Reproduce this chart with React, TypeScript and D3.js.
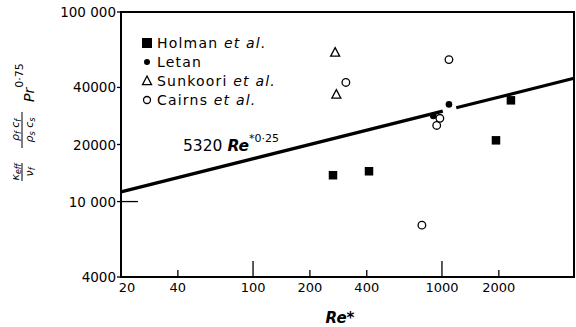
import React from "react";
import * as d3 from "d3";

// (Re*, kappa group)
const holmanRe = [265, 411, 1932, 2318];
const holmanK = [13770, 14450, 21040, 34200];
const letanRe = [1089, 900];
const letanK = [32560, 28300];
const sunkooriRe = [272, 276];
const sunkooriK = [61100, 36700];
const cairnsRe = [310, 1089, 975, 938, 783];
const cairnsK = [42500, 56100, 27500, 25200, 7510];

const xTicks = [20, 40, 100, 200, 400, 1000, 2000];
const xMajor = [100, 1000];
const yTicks = [100000, 40000, 20000, 10000, 4000];
const yTickLabels = ["100 000", "40000", "20000", "10 000", "4000"];
const fitCoef = 5320;
const fitExp = 0.25;
const fitPieces = [
  [20, 1010],
  [1190, 5000],
];
const legendNames = ["Holman", "Letan", "Sunkoori", "Cairns"];
const legendEtAl = [true, false, true, true];

const W = 576;
const H = 327;
const left = 121;
const right = 574;
const top = 12;
const bottom = 277;

const font = "'DejaVu Sans', sans-serif";

const App = () => {
  const x = d3.scaleLog().domain([20, 5000]).range([left, right]);
  const y = d3.scaleLog().domain([4000, 100000]).range([bottom, top]);
  const line = d3
    .line<number>()
    .x((d) => x(d))
    .y((d) => y(fitCoef * Math.pow(d, fitExp)));

  const square = (cx: number, cy: number, s: number, key: string) => (
    <rect key={key} x={cx - s / 2} y={cy - s / 2} width={s} height={s} fill="#000" />
  );
  const tri = (cx: number, cy: number, s: number, key: string) => (
    <path
      key={key}
      d={`M${cx},${cy - s * 0.55}L${cx + s / 2},${cy + s * 0.4}L${cx - s / 2},${cy + s * 0.4}Z`}
      fill="none"
      stroke="#000"
      strokeWidth={1.3}
    />
  );

  const legendMarks = [
    (cx: number, cy: number) => square(cx, cy, 10, "lm0"),
    (cx: number, cy: number) => <circle key="lm1" cx={cx} cy={cy} r={3} fill="#000" />,
    (cx: number, cy: number) => tri(cx, cy, 9, "lm2"),
    (cx: number, cy: number) => (
      <circle key="lm3" cx={cx} cy={cy} r={3.5} fill="none" stroke="#000" strokeWidth={1.3} />
    ),
  ];

  return (
    <svg width={W} height={H} style={{ position: "absolute", left: 0, top: 0, background: "#fff" }}>
      {/* frame */}
      <rect x={left} y={top} width={right - left} height={bottom - top} fill="none" stroke="#000" strokeWidth={2} />

      {/* x ticks and labels */}
      {xTicks.map((t, i) => (
        <g key={"xt" + i}>
          {i > 0 && (
            <line
              x1={x(t)}
              x2={x(t)}
              y1={bottom}
              y2={bottom - (xMajor.includes(t) ? 16 : 7)}
              stroke="#000"
              strokeWidth={1.3}
            />
          )}
          <text x={x(t) + (i === 0 ? 6 : 0)} y={292} textAnchor="middle" fontFamily={font} fontSize={13}>
            {t}
          </text>
        </g>
      ))}
      <text x={340} y={323} textAnchor="middle" fontFamily={font} fontSize={15} fontStyle="italic" fontWeight="bold">
        Re*
      </text>

      {/* y ticks and labels */}
      {yTicks.map((t, i) => (
        <g key={"yt" + i}>
          <line
            x1={left - 4}
            x2={t === 10000 ? left + 17 : left}
            y1={y(t)}
            y2={y(t)}
            stroke="#000"
            strokeWidth={1.3}
          />
          <text x={116} y={y(t) + 5} textAnchor="end" fontFamily={font} fontSize={13.5}>
            {yTickLabels[i]}
          </text>
        </g>
      ))}

      {/* y axis label, rotated */}
      <g transform="translate(22,0) rotate(-90)" fontFamily={font} fontStyle="italic" fontSize={11}>
        <text x={-172} y={-3} textAnchor="middle">
          κ<tspan fontSize={8} dy={2}>eff</tspan>
        </text>
        <line x1={-181} x2={-163} y1={0} y2={0} stroke="#000" strokeWidth={1} />
        <text x={-172} y={11} textAnchor="middle">
          ν<tspan fontSize={8} dy={2}>f</tspan>
        </text>
        <text x={-130} y={-3} textAnchor="middle">
          ρ<tspan fontSize={8} dy={2}>f</tspan>
          <tspan dy={-2}> c</tspan>
          <tspan fontSize={8} dy={2}>f</tspan>
        </text>
        <line x1={-148} x2={-112} y1={0} y2={0} stroke="#000" strokeWidth={1} />
        <text x={-130} y={11} textAnchor="middle">
          ρ<tspan fontSize={8} dy={2}>s</tspan>
          <tspan dy={-2}> c</tspan>
          <tspan fontSize={8} dy={2}>s</tspan>
        </text>
        <text x={-102} y={12} fontSize={14}>
          Pr
          <tspan fontSize={11} fontStyle="normal" dy={-11}>
            0·75
          </tspan>
        </text>
      </g>

      {/* fit line */}
      {fitPieces.map((p, i) => (
        <path key={"fit" + i} d={line(p) || ""} fill="none" stroke="#000" strokeWidth={3.2} />
      ))}
      <text x={183} y={151} fontFamily={font} fontSize={15.5}>
        5320{" "}
        <tspan fontStyle="italic" fontWeight="bold">
          Re
        </tspan>
        <tspan fontSize={11} dy={-9}>
          *0·25
        </tspan>
      </text>

      {/* data */}
      {holmanRe.map((r, i) => square(x(r), y(holmanK[i]), 8.5, "h" + i))}
      {letanRe.map((r, i) => (
        <circle key={"l" + i} cx={x(r)} cy={y(letanK[i])} r={3.3} fill="#000" />
      ))}
      {sunkooriRe.map((r, i) => tri(x(r), y(sunkooriK[i]), 9, "s" + i))}
      {cairnsRe.map((r, i) => (
        <circle key={"c" + i} cx={x(r)} cy={y(cairnsK[i])} r={3.8} fill="none" stroke="#000" strokeWidth={1.3} />
      ))}

      {/* legend */}
      {legendNames.map((n, i) => (
        <g key={"lg" + i}>
          {legendMarks[i](147, 43 + i * 19)}
          <text x={157} y={48 + i * 19} fontFamily={font} fontSize={14} letterSpacing={1.2}>
            {n}
            {legendEtAl[i] && <tspan fontStyle="italic"> et al.</tspan>}
          </text>
        </g>
      ))}
    </svg>
  );
};

export default App;
